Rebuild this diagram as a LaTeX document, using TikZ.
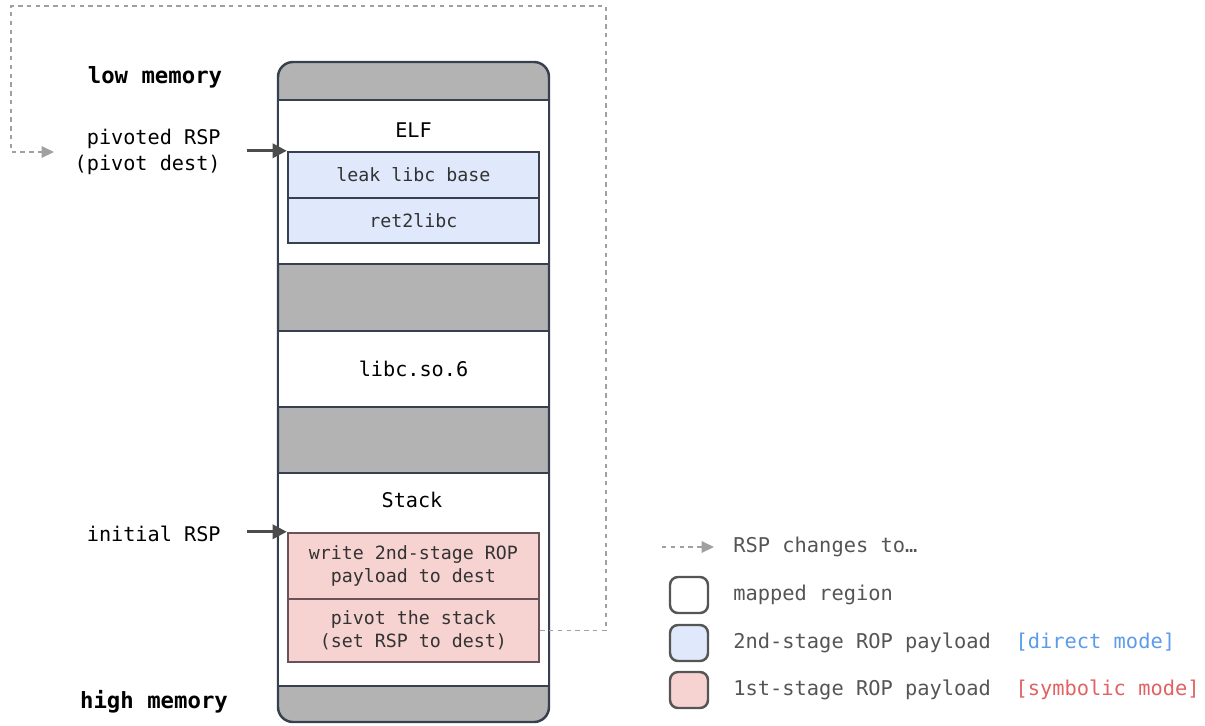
\documentclass[tikz,border=0pt]{standalone}
\usepackage{fontspec}
\setmainfont{DejaVu Sans Mono}
\usetikzlibrary{arrows.meta,positioning}
\definecolor{slate}{HTML}{36404F}
\definecolor{gapgray}{HTML}{B3B3B3}
\definecolor{bluefill}{HTML}{DFE9FB}
\definecolor{pinkfill}{HTML}{F6D2D1}
\definecolor{pinkedge}{HTML}{6A5258}
\definecolor{dashgray}{HTML}{A0A0A0}
\definecolor{legtext}{HTML}{555555}
\definecolor{directblue}{HTML}{5B9BEA}
\definecolor{symred}{HTML}{E06262}

\begin{document}
\begin{tikzpicture}[x=0.02cm,y=-0.02cm,
  region/.style={draw=slate,fill=white,line width=1.4pt,minimum width=5.42cm,inner sep=0pt,font=\fontsize{11.5}{14}\selectfont},
  bluebox/.style={draw=slate,fill=bluefill,line width=1.4pt,minimum width=5.02cm,inner sep=0pt,text=black!80,font=\fontsize{10.4}{13}\selectfont},
  pinkbox/.style={draw=pinkedge,fill=pinkfill,line width=1.4pt,minimum width=5.02cm,inner sep=0pt,align=center,text=black!80,font=\fontsize{10.4}{13}\selectfont},
  sidelbl/.style={anchor=east,align=right,inner sep=0pt,font=\fontsize{11.5}{14.7}\selectfont},
  memlbl/.style={font=\bfseries\fontsize{12.7}{15}\selectfont},
  rsparrow/.style={-{Triangle[length=8pt,width=8pt]},line width=1.7pt,draw=black!70},
  rspdash/.style={-{Triangle[length=7pt,width=6.5pt]},line width=0.85pt,draw=dashgray,dash pattern=on 2.5pt off 2.5pt},
  legbox/.style={draw=legtext,line width=1.4pt,rounded corners=0.16cm,minimum width=0.76cm,minimum height=0.72cm},
  legtxt/.style={anchor=west,inner sep=0pt,text=legtext,font=\fontsize{11.6}{14}\selectfont}]
\useasboundingbox (0,0) rectangle (1205,725);
\filldraw[draw=slate,fill=gapgray,line width=1.4pt,rounded corners=0.3cm] (278,62) rectangle (549,722);
\node[region,minimum height=3.28cm] (elf) at (413.5,182) {};
\node[region,minimum height=1.52cm] (libc) at (413.5,369) {libc.so.6};
\node[region,minimum height=4.26cm] (stack) at (413.5,579.5) {};
\node[font=\fontsize{11.5}{14}\selectfont] (elflbl) at (413.5,130) {ELF};
\node[font=\fontsize{11.5}{14}\selectfont] (stacklbl) at (412,500) {Stack};
\node[bluebox,minimum height=0.92cm] (leak) at (413.5,175) {leak libc base};
\node[bluebox,minimum height=0.9cm] (ret) at (413.5,220.5) {ret2libc};
\node[pinkbox,minimum height=1.32cm] (write) at (413.5,566) {write 2nd-stage ROP\\payload to dest};
\node[pinkbox,minimum height=1.26cm] (pivot) at (413.5,630.5) {pivot the stack\\(set RSP to dest)};
\node[memlbl] (low) at (155,77) {low memory};
\node[memlbl] (high) at (154,702) {high memory};
\node[sidelbl] (pivlbl) at (221,152) {pivoted RSP\\(pivot dest)};
\node[sidelbl] (initlbl) at (221,534) {initial RSP};
\coordinate[left=0.8cm of leak.north west] (pivsrc);
\coordinate[left=0.8cm of write.north west] (initsrc);
\coordinate (dest) at (54,152);
\draw[rsparrow] (pivsrc) -- (leak.north west);
\draw[rsparrow] (initsrc) -- (write.north west);
\draw[rspdash] (pivot.east) -| (606,6) -| (11,152) -- (dest);
\coordinate (legsrc) at (662,547);
\coordinate (legdst) at (714,547);
\draw[rspdash] (legsrc) -- (legdst);
\node[legtxt] (legrsp) at (733,547) {RSP changes to…};
\node[legbox,fill=white] (legmap) at (689,595) {};
\node[legbox,fill=bluefill] (legblue) at (689,643) {};
\node[legbox,fill=pinkfill] (legpink) at (689,690) {};
\node[legtxt] (mapped) at (733,595) {mapped region};
\node[legtxt] (second) at (733,643) {2nd-stage ROP payload\ \ {\color{directblue}[direct mode]}};
\node[legtxt] (first) at (733,690) {1st-stage ROP payload\ \ {\color{symred}[symbolic mode]}};
\end{tikzpicture}
\end{document}
